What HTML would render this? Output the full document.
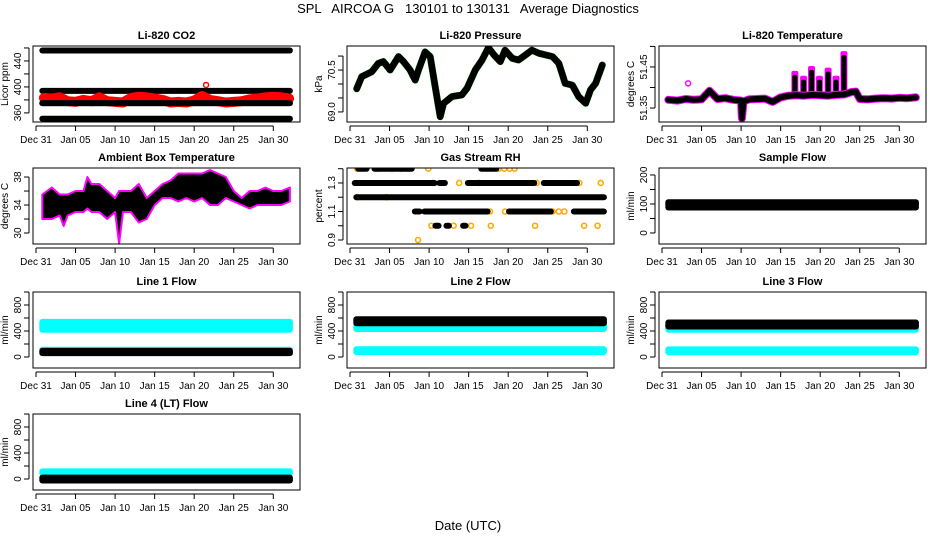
<!DOCTYPE html>
<html><head><meta charset="utf-8">
<style>
html,body{margin:0;padding:0;background:#fff;}
svg{display:block;font-family:"Liberation Sans",sans-serif;}
</style></head>
<body>
<svg id="chart" width="936" height="540" viewBox="0 0 936 540" xmlns="http://www.w3.org/2000/svg">
<rect width="936" height="540" fill="#fff"/>
<text x="468" y="13" text-anchor="middle" font-size="13" style="white-space:pre" xml:space="preserve">SPL   AIRCOA G   130101 to 130131   Average Diagnostics</text>
<text x="468" y="530" text-anchor="middle" font-size="13">Date (UTC)</text>
</svg>
<script>
// ---- data ----
const xTickLabels = ["Dec 31","Jan 05","Jan 10","Jan 15","Jan 20","Jan 25","Jan 30"];
const xTickDays = [0,5,10,15,20,25,30];
const dataStart = 0.8, dataEnd = 32.1;

const co2Levels = [456, 394, 375, 351];
const co2RedDays = [1,2,3,4,5,6,7,8,9,10,11,12,13,14,15,16,17,18,19,20,21,22,23,24,25,26,27,28,29,30,31,32];
const co2RedVals = [383,382,384,378,377,380,378,384,378,377,376,383,385,384,382,380,376,377,376,379,386,380,378,376,377,378,381,382,384,385,384,382];
const co2OutDay = [21.5], co2OutVal = [403];

const presDays = [0.85,1.48,2.75,3.59,4.22,5.07,6.13,6.76,7.6,8.24,8.66,9.5,10.14,10.77,11.4,11.83,12.9,14.15,14.8,15.84,16.7,17.5,18.2,19,19.6,20.5,21.3,22.2,23,23.9,24.7,25.6,26.4,27.2,28.1,28.9,29.8,30.4,31.05,31.9];
const presVals = [69.83,70.26,70.44,70.74,70.80,70.50,70.98,70.80,70.50,70.14,70.50,71.15,70.98,69.90,68.83,69.31,69.55,69.61,69.85,70.50,70.86,71.30,71.04,70.80,71.21,70.92,70.86,71.04,71.21,71.10,71.04,70.98,70.74,70.02,69.96,69.55,69.31,69.79,70.02,70.68];

const tempDays = [0.8,2,3,4,5,6,7,8,9,10,10.1,10.3,11,12,13,14,15,16,17,18,19,20,21,22,23,24,24.5,25,26,27,28,29,30,31,32.1];
const tempVals = [51.370,51.368,51.372,51.370,51.371,51.392,51.372,51.374,51.370,51.368,51.325,51.366,51.371,51.372,51.373,51.365,51.376,51.380,51.381,51.380,51.382,51.381,51.380,51.382,51.383,51.389,51.390,51.372,51.371,51.373,51.374,51.373,51.375,51.374,51.376];
const tempSpikeDays = [16.8,17.9,18.9,19.9,21,22,23];
const tempSpikeTops = [51.438,51.426,51.450,51.426,51.446,51.426,51.486];
const tempOutDay = [3.3], tempOutVal = [51.410];

const ambDays = [0.8,2,3,3.5,4,5,6,6.5,7,8,9,10,10.5,11,12,13,14,15,16,17,18,19,20,21,22,23,24,25,26,27,28,29,30,31,32.1];
const ambMin = [32,32,32.5,31,32.5,33,33,33.5,33,33,32,33,28.5,33,33,31.5,32,34,35,35,34.5,35,34.5,35,34,34,35,34.5,34,33.5,34,34,34,34,34.5];
const ambMax = [35.5,36.5,35.5,35.5,35.5,36,36,38,37,37,36,35,36,36,36,37,35,36,37,37.5,38.5,38.5,38.5,38.5,39,38.5,38,36,35,36,36,36.5,36,36,36.5];

const rhLevel = [1.4,1.4,1.4,1.3,1.3,1.3,1.3,1.2,1.1,1.1,1.1,1.1,1.0,1.0,1.0];
const rhStart = [1.05,3.1,16.6,0.6,11.3,14.9,24.5,0.8,8.2,9.4,20.1,28.3,10.8,12.2,14.3];
const rhEnd   = [2.1,7.8,18.5,10.7,12.0,23.3,28.7,32.1,8.8,17.4,25.4,32.1,11.2,12.5,14.6];
const rhYDay = [0.9,3.5,5.3,6.5,7.4,9.9,18.8,19.5,20.2,20.8,10.5,13.8,16.3,23.6,29.0,31.7,0.9,4.6,17.7,19.6,25.6,26.4,27.1,10.3,13.1,15.3,17.8,23.4,29.6,31.3,8.6];
const rhYLev = [1.4,1.4,1.4,1.4,1.4,1.4,1.4,1.4,1.4,1.4,1.3,1.3,1.3,1.3,1.3,1.3,1.2,1.2,1.1,1.1,1.1,1.1,1.1,1.0,1.0,1.0,1.0,1.0,1.0,1.0,0.9];

const sampleLow = [88], sampleHigh = [106];
const line1Low = [420, 95, 60], line1High = [540, 112, 95];
const line2Low = [430, 78, 520], line2High = [480, 120, 580];
const line3Low = [420, 75, 470], line3High = [470, 118, 530];
const line4Low = [85, -22], line4High = [118, 22];

// ---- layout ----
const NS = "http://www.w3.org/2000/svg";
const svg = document.getElementById('chart');
const colLeft = [33, 347, 659], boxW = 267, boxH = 76;
const rowTop = [46, 168, 292, 414];
function mk(tag, attrs, parent){ const e=document.createElementNS(NS,tag); for(const k in attrs) e.setAttribute(k,attrs[k]); (parent||svg).appendChild(e); return e; }

function panel(name, title, ylab, col, row, ymin, ymax, yticks, ylabels){
  const L = colLeft[col], T = rowTop[row];
  const g = mk('g', {});
  
  
  const xs = d => L + 3 + d * 7.91;
  const ys = v => T + boxH - (v - ymin) / (ymax - ymin) * boxH;
  const clipId = 'clip-' + name;
  const cp = mk('clipPath', {id: clipId}, g);
  mk('rect', {x: L, y: T, width: boxW, height: boxH}, cp);
  const plot = mk('g', {'clip-path': 'url(#' + clipId + ')'}, g);
  
  
  const box = mk('rect', {x: L, y: T, width: boxW, height: boxH, fill: 'none', stroke: '#000', 'stroke-width': 1}, g);
  
  
  const t = mk('text', {x: L + boxW / 2, y: T - 7, 'text-anchor': 'middle', 'font-size': 11, 'font-weight': 'bold'}, g);
  t.textContent = title;
  
  
  const ax = mk('g', {}, g);
  
  
  const ay0 = T + boxH + 4;
  mk('line', {x1: xs(xTickDays[0]), x2: xs(xTickDays[xTickDays.length - 1]), y1: ay0, y2: ay0, stroke: '#000'}, ax);
  xTickDays.forEach((d, i) => {
    mk('line', {x1: xs(d), x2: xs(d), y1: ay0, y2: ay0 + 5, stroke: '#000'}, ax);
    const lt = mk('text', {x: xs(d), y: ay0 + 17, 'text-anchor': 'middle', 'font-size': 10}, ax);
    lt.textContent = xTickLabels[i];
    
    
  });
  const yax = mk('g', {}, g);
  
  
  mk('line', {x1: L - 4, x2: L - 4, y1: ys(yticks[0]), y2: ys(yticks[yticks.length - 1]), stroke: '#000'}, yax);
  yticks.forEach(v => mk('line', {x1: L - 9, x2: L - 4, y1: ys(v), y2: ys(v), stroke: '#000'}, yax));
  ylabels.forEach(lbl => {
    const v = parseFloat(lbl);
    const lt = mk('text', {x: 0, y: 0, 'text-anchor': 'middle', 'font-size': 10, transform: 'translate(' + (L - 12) + ',' + ys(v) + ') rotate(-90)'}, yax);
    lt.textContent = lbl;
    
    
  });
  const yl = mk('text', {x: 0, y: 0, 'text-anchor': 'middle', 'font-size': 10, transform: 'translate(' + (L - 25) + ',' + (T + boxH / 2) + ') rotate(-90)'}, g);
  yl.textContent = ylab;
  
  
  return {plot, xs, ys};
}
function poly(parent, xsF, ysF, days, vals, color, w){
  const pts = days.map((d, i) => xsF(d).toFixed(1) + ',' + ysF(vals[i]).toFixed(1)).join(' ');
  return mk('polyline', {points: pts, fill: 'none', stroke: color, 'stroke-width': w, 'stroke-linejoin': 'round', 'stroke-linecap': 'round'}, parent);
}
function bands(p, lows, highs, colors){
  lows.forEach((lo, i) => {
    const y1 = p.ys(highs[i]) - 3, y2 = p.ys(lo) + 3;
    const r = mk('rect', {x: p.xs(dataStart) - 3, y: y1, width: p.xs(dataEnd) - p.xs(dataStart) + 6, height: y2 - y1, rx: 3, fill: colors[i]}, p.plot);
    
    
  });
}

// CO2
let p = panel('co2', 'Li-820 CO2', 'Licor ppm', 0, 0, 346, 463, [360,380,400,420,440,460], ['360','400','440']);
co2Levels.forEach(v => {
  const l = mk('line', {x1: p.xs(dataStart), x2: p.xs(dataEnd), y1: p.ys(v), y2: p.ys(v), stroke: '#000', 'stroke-width': 6, 'stroke-linecap': 'round'}, p.plot);
  
  
});
let rl = poly(p.plot, p.xs, p.ys, co2RedDays, co2RedVals, '#f00', 10);


{ const l = mk('line', {x1: p.xs(dataStart), x2: p.xs(dataEnd), y1: p.ys(co2Levels[2]), y2: p.ys(co2Levels[2]), stroke: '#000', 'stroke-width': 6, 'stroke-linecap': 'round'}, p.plot);
  
   }
co2OutDay.forEach((d, i) => {
  const c = mk('circle', {cx: p.xs(d), cy: p.ys(co2OutVal[i]), r: 2.5, fill: 'none', stroke: '#f00', 'stroke-width': 1.5}, p.plot);
  
  
});

// Pressure
p = panel('pressure', 'Li-820 Pressure', 'kPa', 1, 0, 68.64, 71.36, [69.0,69.5,70.0,70.5,71.0], ['69.0','70.5']);
let pl = poly(p.plot, p.xs, p.ys, presDays, presVals, '#0a0', 7);


pl = poly(p.plot, p.xs, p.ys, presDays, presVals, '#000', 6.5);



// Li-820 Temperature
p = panel('li-temp', 'Li-820 Temperature', 'degrees C', 2, 0, 51.316, 51.501, [51.35,51.40,51.45,51.50], ['51.35','51.45']);
tempSpikeDays.forEach((d, i) => {
  const top = p.ys(tempSpikeTops[i]), bot = p.ys(51.385);
  const m = mk('rect', {x: p.xs(d) - 3.5, y: top - 1, width: 7, height: bot - top + 1, fill: '#f0f', rx: 2}, p.plot);
  
  
  const b = mk('rect', {x: p.xs(d) - 2.5, y: top + 3, width: 5, height: bot - top - 3, fill: '#000', rx: 2}, p.plot);
  
  
});
pl = poly(p.plot, p.xs, p.ys, tempDays, tempVals, '#f0f', 8);


pl = poly(p.plot, p.xs, p.ys, tempDays, tempVals, '#000', 6);


tempOutDay.forEach((d, i) => {
  const c = mk('circle', {cx: p.xs(d), cy: p.ys(tempOutVal[i]), r: 2.5, fill: 'none', stroke: '#f0f', 'stroke-width': 1.5}, p.plot);
  
  
});

// Ambient
p = panel('ambient', 'Ambient Box Temperature', 'degrees C', 0, 1, 28.43, 39.29, [30,32,34,36,38], ['30','34','38']);
{
  const up = ambDays.map((d, i) => p.xs(d).toFixed(1) + ',' + p.ys(ambMax[i]).toFixed(1));
  const dn = ambDays.map((d, i) => p.xs(d).toFixed(1) + ',' + p.ys(ambMin[i]).toFixed(1)).reverse();
  const pg = mk('polygon', {points: up.concat(dn).join(' '), fill: '#000', stroke: '#f0f', 'stroke-width': 2, 'stroke-linejoin': 'round'}, p.plot);
  
  
}

// RH
p = panel('rh', 'Gas Stream RH', 'percent', 1, 1, 0.872, 1.405, [0.9,1.0,1.1,1.2,1.3,1.4], ['0.9','1.1','1.3']);
rhYDay.forEach((d, i) => {
  const c = mk('circle', {cx: p.xs(d), cy: p.ys(rhYLev[i]), r: 2.5, fill: 'none', stroke: '#fa0', 'stroke-width': 1.6}, p.plot);
  
  
});
rhLevel.forEach((lv, i) => {
  const l = mk('line', {x1: p.xs(rhStart[i]), x2: p.xs(rhEnd[i]), y1: p.ys(lv), y2: p.ys(lv), stroke: '#000', 'stroke-width': 6, 'stroke-linecap': 'round'}, p.plot);
  
  
});

// Sample flow
p = panel('sample-flow', 'Sample Flow', 'ml/min', 2, 1, -38, 224, [0,50,100,150,200], ['0','100','200']);
bands(p, sampleLow, sampleHigh, ['#000']);

// Line flows
const flowTicks = [0,200,400,600,800,1000], flowLabels = ['0','400','800'];
p = panel('line1-flow', 'Line 1 Flow', 'ml/min', 0, 2, -169, 1000, flowTicks, flowLabels);
bands(p, line1Low, line1High, ['#0ff','#0ff','#000']);
p = panel('line2-flow', 'Line 2 Flow', 'ml/min', 1, 2, -169, 1000, flowTicks, flowLabels);
bands(p, line2Low, line2High, ['#0ff','#0ff','#000']);
p = panel('line3-flow', 'Line 3 Flow', 'ml/min', 2, 2, -169, 1000, flowTicks, flowLabels);
bands(p, line3Low, line3High, ['#0ff','#0ff','#000']);
p = panel('line4-flow', 'Line 4 (LT) Flow', 'ml/min', 0, 3, -169, 1000, flowTicks, flowLabels);
bands(p, line4Low, line4High, ['#0ff','#000']);
</script>
</body></html>
